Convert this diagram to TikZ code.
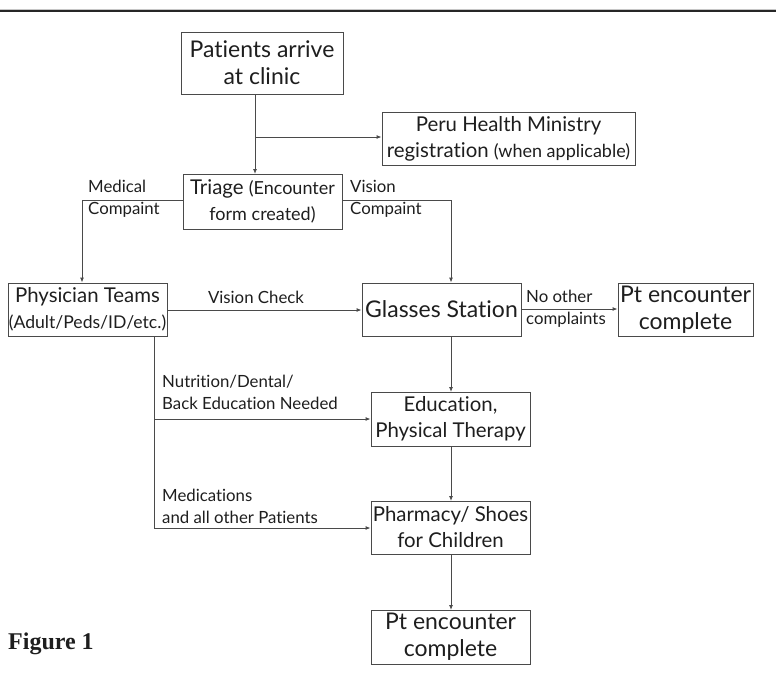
\documentclass[tikz,border=0pt]{standalone}
\usepackage{fontspec}
\setmainfont{Lato}[Ligatures={NoCommon}]
\newfontfamily\figfont{Liberation Serif}
\usetikzlibrary{arrows.meta}
\definecolor{ln}{HTML}{4A4A4A}
\definecolor{tx}{HTML}{1E1E1E}
\tikzset{
  box/.style={draw=ln, line width=0.9pt, rectangle, align=center, inner sep=0pt, text=tx},
  lbl/.style={align=left, inner sep=0pt, anchor=west, text=tx, font=\fontsize{16.8}{22}\selectfont},
  arr/.style={draw=ln, line width=0.9pt, -{Latex[length=5pt,width=4pt]}},
  ln/.style={draw=ln, line width=0.9pt},
}
\newcommand{\bigfs}{\fontsize{23}{27}\selectfont}
\newcommand{\medfs}{\fontsize{20.4}{26}\selectfont}
\newcommand{\smlfs}{\fontsize{18}{26}\selectfont}
\begin{document}
\begin{tikzpicture}[x=1pt,y=-1pt]
\useasboundingbox (0,0) rectangle (776,675);
\draw[gray!45, line width=0.6pt] (0,9) -- (776,9);
\draw[black!85, line width=1.4pt] (0,10.8) -- (776,10.8);
% nodes
\node[box, minimum width=162, minimum height=62, font=\bigfs] (arrive) at (262,63) {Patients arrive\\at clinic};
\node[box, minimum width=253, minimum height=53, font=\medfs] (peru) at (508.5,138.5) {Peru Health Ministry\\registration {\smlfs (when applicable)}};
\node[box, minimum width=159, minimum height=55, font=\medfs] (triage) at (262.5,201.5) {Triage {\smlfs (Encounter}\\{\smlfs form created)}};
\node[box, minimum width=159, minimum height=53, font=\medfs] (phys) at (87.5,309.5) {Physician Teams\\{\fontsize{17.6}{26}\selectfont (Adult/Peds/ID/etc.)}};
\node[box, minimum width=159, minimum height=53, font=\bigfs] (glasses) at (441.5,309.5) {Glasses Station};
\node[box, minimum width=135, minimum height=53, font=\bigfs] (ptc1) at (685.5,309.5) {Pt encounter\\complete};
\node[box, minimum width=159, minimum height=54, font=\medfs] (edu) at (450.5,419) {Education,\\Physical Therapy};
\node[box, minimum width=159, minimum height=53, font=\medfs] (pharm) at (450.5,527.5) {Pharmacy/ Shoes\\for Children};
\node[box, minimum width=159, minimum height=54, font=\bigfs] (ptc2) at (450.5,637) {Pt encounter\\complete};
% coordinates
\coordinate (a1) at (255,94);
\coordinate (a2) at (255,137);
\coordinate (t1) at (255,174);
\coordinate (vis) at (451,200);
\coordinate (med) at (82,200);
\coordinate (p1) at (154,336);
\coordinate (p2) at (154,419);
\coordinate (p3) at (154,528);
% connectors
\draw[arr] (a1) -- (t1);
\draw[arr] (a2) -- (a2 -| peru.west);
\draw[arr] (triage.east |- vis) -- (vis) -- (vis |- glasses.north);
\draw[arr] (triage.west |- med) -- (med) -- (med |- phys.north);
\draw[arr] (phys.east |- 0,310) -- (glasses.west |- 0,310);
\draw[arr] (glasses.east |- 0,309) -- (ptc1.west |- 0,309);
\draw[arr] (451,336) -- (451,392);
\draw[arr] (451,446) -- (451,501);
\draw[arr] (451,554) -- (451,610);
\draw[ln] (p1) -- (p3);
\draw[arr] (p2) -- (p2 -| edu.west);
\draw[arr] (p3) -- (p3 -| pharm.west);
% labels
\node[lbl] (l1) at (88,199) {Medical\\Compaint};
\node[lbl] (l2) at (350,199) {Vision\\Compaint};
\node[lbl, anchor=center] (l3) at (256,297) {Vision Check};
\node[lbl] (l4) at (526,309) {No other\\complaints};
\node[lbl] (l5) at (162,392) {Nutrition/Dental/\\Back Education Needed};
\node[lbl] (l6) at (162,506) {Medications\\and all other Patients};
\node[anchor=west, inner sep=0pt, text=tx, font=\figfont\bfseries\fontsize{24}{28}\selectfont] (fig) at (8,644) {Figure 1};
\end{tikzpicture}
\end{document}
